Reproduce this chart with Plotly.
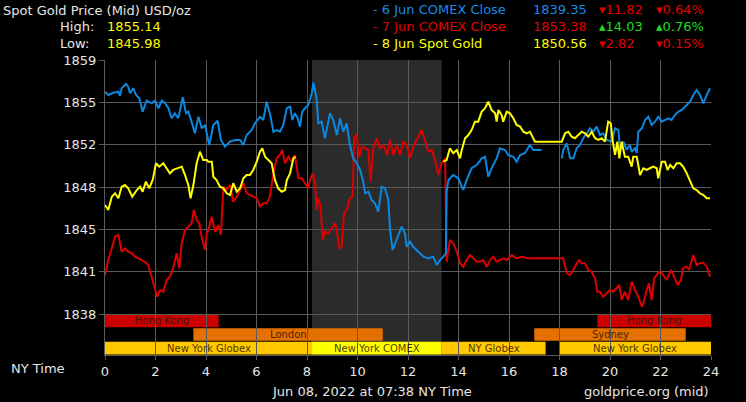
import plotly.graph_objects as go

# ---------------- data ----------------
x_ticks = list(range(0, 25, 2))
y_tickvals = [1838, 1841.5, 1845, 1848.5, 1852, 1855.5, 1859]
y_ticktext = ["1838", "1841", "1845", "1848", "1852", "1855", "1859"]

blue_t = [0, 0.13, 0.33, 0.53, 0.59, 0.66, 0.83, 0.92, 0.99, 1.12, 1.23, 1.36, 1.49, 1.65, 1.85, 1.98,
          2.11, 2.25, 2.38, 2.51, 2.64, 2.77, 2.90, 3.08, 3.21, 3.30, 3.43, 3.56, 3.70, 3.83, 3.96,
          4.13, 4.29, 4.46, 4.59, 4.75, 4.95, 5.15, 5.35, 5.48, 5.61, 5.81, 5.94, 6.14, 6.27, 6.40,
          6.53, 6.67, 6.80, 6.93, 7.06, 7.20, 7.33, 7.42, 7.52, 7.63, 7.72, 7.81, 7.92, 8.05, 8.19,
          8.25, 8.38, 8.45, 8.58, 8.71, 8.91, 9.04, 9.18, 9.31, 9.44, 9.57, 9.70, 9.83, 9.97, 10.10,
          10.23, 10.30, 10.43, 10.56, 10.69, 10.82, 10.96, 11.09, 11.22, 11.29, 11.39, 11.55, 11.75,
          11.88, 11.95, 12.08, 12.21, 12.41, 12.61, 12.80, 13.00, 13.14, 13.27, 13.40, 13.50, 13.53,
          13.60, 13.79, 13.99, 14.19, 14.32, 14.52, 14.72, 14.92, 15.05, 15.18, 15.31, 15.51, 15.64,
          15.84, 15.97, 16.17, 16.30, 16.44, 16.63, 16.83, 16.96, 17.16, 17.29, 17.7,
          18.09, 18.15, 18.29, 18.42, 18.55, 18.68, 18.81, 18.94, 19.08, 19.21, 19.34, 19.47, 19.60,
          19.73, 19.87, 20.07, 20.20, 20.33, 20.40, 20.53, 20.66, 20.79, 20.86, 20.99, 21.06, 21.12,
          21.26, 21.39, 21.52, 21.65, 21.78, 21.91, 22.05, 22.18, 22.31, 22.44, 22.57, 22.71, 22.84,
          22.97, 23.17, 23.30, 23.43, 23.56, 23.70, 23.83, 23.96]
blue_v = [1856.38, 1856.11, 1856.30, 1856.38, 1856.02, 1856.66, 1857.02, 1856.79, 1856.25, 1856.66,
          1856.11, 1855.83, 1854.73, 1855.64, 1855.42, 1855.64, 1855.01, 1855.64, 1855.42, 1855.01,
          1854.18, 1854.59, 1854.18, 1855.92, 1854.59, 1854.73, 1853.90, 1852.94, 1854.31, 1853.35,
          1853.63, 1851.97, 1853.63, 1853.98, 1852.39, 1851.83, 1852.25, 1852.39, 1852.39, 1851.97,
          1852.80, 1853.21, 1853.77, 1854.31, 1854.04, 1855.55, 1854.59, 1853.07, 1853.21, 1853.07,
          1853.63, 1855.01, 1855.14, 1854.04, 1854.59, 1854.18, 1853.49, 1854.73, 1855.01, 1855.28,
          1856.25, 1857.14, 1855.83, 1853.77, 1853.90, 1852.53, 1854.59, 1854.04, 1852.80, 1854.18,
          1853.07, 1853.77, 1851.97, 1850.87, 1850.46, 1849.91, 1848.94, 1847.98, 1848.11, 1847.42,
          1847.15, 1846.46, 1848.52, 1848.39, 1847.42, 1844.94, 1843.29, 1844.12, 1845.22, 1844.67,
          1843.56, 1843.98, 1843.56, 1843.15, 1842.74, 1842.60, 1842.74, 1842.05, 1842.46, 1842.74,
          1843.02, 1848.11, 1849.08, 1849.49, 1849.22, 1848.25, 1849.08, 1850.05, 1850.32, 1850.87,
          1851.00, 1849.35, 1850.05, 1850.87, 1851.70, 1851.56, 1851.15, 1851.00, 1850.59, 1851.15,
          1851.29, 1851.97, 1851.56, 1851.56, 1851.56, None,
          1850.87, 1851.56, 1852.11, 1850.87, 1850.87, 1851.70, 1851.97, 1852.53, 1852.94, 1853.35,
          1853.07, 1853.49, 1852.80, 1852.94, 1852.39, 1852.25, 1853.35, 1853.21, 1851.56, 1852.25,
          1851.56, 1851.97, 1851.42, 1851.70, 1851.29, 1853.07, 1853.35, 1854.04, 1854.31, 1853.63,
          1853.90, 1854.31, 1853.90, 1854.04, 1854.18, 1854.04, 1854.45, 1854.73, 1854.87, 1855.14,
          1855.55, 1856.11, 1856.52, 1856.11, 1855.42, 1856.11, 1856.66]

yellow_t = [0, 0.13, 0.27, 0.40, 0.53, 0.66, 0.79, 0.92, 1.08, 1.26, 1.39, 1.49, 1.62, 1.75, 1.89,
            2.02, 2.15, 2.31, 2.44, 2.57, 2.70, 2.86, 3.04, 3.17, 3.30, 3.39, 3.50, 3.63, 3.76, 3.89,
            4.03, 4.09, 4.23, 4.29, 4.42, 4.55, 4.69, 4.82, 4.95, 5.08, 5.22, 5.35, 5.48, 5.61, 5.74,
            5.87, 6.01, 6.14, 6.23, 6.34, 6.47, 6.60, 6.73, 6.86, 7.00, 7.13, 7.20, 7.33, 7.46, 7.55,
            10.0,
            13.40, 13.53, 13.66, 13.79, 13.93, 14.06, 14.13, 14.26, 14.39, 14.52, 14.65, 14.78, 14.92,
            15.05, 15.18, 15.31, 15.45, 15.51, 15.58, 15.71, 15.77, 15.91, 16.04, 16.17, 16.30, 16.44,
            16.57, 16.70, 16.83, 16.96, 17.03, 18.09, 18.22, 18.35, 18.48, 18.61, 18.74, 18.88, 19.01,
            19.14, 19.27, 19.41, 19.54, 19.67, 19.80, 19.93, 20.03, 20.11, 20.20, 20.29, 20.37, 20.46,
            20.59, 20.72, 20.86, 20.92, 21.06, 21.19, 21.32, 21.45, 21.58, 21.71, 21.85, 21.91, 22.05,
            22.18, 22.28, 22.38, 22.51, 22.64, 22.77, 22.90, 23.04, 23.17, 23.30, 23.43, 23.56, 23.70,
            23.83, 23.96]
yellow_v = [1847.01, 1846.60, 1847.70, 1847.98, 1847.57, 1848.52, 1848.66, 1848.39, 1847.70, 1848.25,
            1848.52, 1848.11, 1848.94, 1848.39, 1849.08, 1850.46, 1850.18, 1850.46, 1850.05, 1849.63,
            1849.91, 1850.05, 1850.18, 1849.49, 1848.66, 1847.57, 1848.66, 1850.46, 1851.42, 1850.73,
            1850.73, 1850.59, 1850.59, 1849.35, 1849.08, 1848.52, 1848.39, 1847.98, 1847.84, 1848.81,
            1848.11, 1848.39, 1849.22, 1849.49, 1849.49, 1849.91, 1850.59, 1851.42, 1851.70, 1851.00,
            1850.73, 1850.46, 1849.08, 1848.39, 1848.11, 1848.25, 1849.08, 1849.63, 1850.87, 1851.00,
            None,
            1850.59, 1850.73, 1851.70, 1851.29, 1851.56, 1850.87, 1851.56, 1852.53, 1852.80, 1853.21,
            1853.90, 1853.90, 1854.73, 1855.01, 1855.55, 1854.87, 1854.59, 1853.90, 1854.87, 1854.45,
            1853.90, 1854.73, 1854.59, 1854.18, 1853.63, 1853.49, 1853.07, 1852.94, 1853.07, 1852.53,
            1852.25, 1852.25, 1852.94, 1853.07, 1852.66, 1852.53, 1852.80, 1853.07, 1852.94, 1852.66,
            1853.07, 1852.53, 1852.39, 1852.53, 1852.25, 1853.90, 1853.77, 1852.25, 1851.15, 1852.25,
            1850.87, 1852.25, 1851.00, 1851.00, 1850.18, 1851.00, 1851.00, 1849.49, 1850.05, 1849.91,
            1850.05, 1850.18, 1850.05, 1849.22, 1850.59, 1850.59, 1849.91, 1850.32, 1850.05, 1850.46,
            1850.46, 1850.18, 1849.63, 1849.08, 1848.39, 1848.25, 1847.98, 1847.84, 1847.57, 1847.57]

red_t = [0, 0.13, 0.27, 0.40, 0.53, 0.66, 0.79, 0.92, 1.06, 1.19, 1.32, 1.45, 1.58, 1.71, 1.85, 1.98,
         2.07, 2.18, 2.31, 2.44, 2.57, 2.68, 2.84, 2.94, 3.04, 3.17, 3.30, 3.43, 3.52, 3.63, 3.73,
         3.83, 3.96, 4.03, 4.09, 4.23, 4.36, 4.49, 4.59, 4.69, 4.82, 4.95, 5.08, 5.22, 5.35, 5.48,
         5.61, 5.74, 5.87, 6.01, 6.14, 6.27, 6.40, 6.53, 6.67, 6.80, 6.93, 7.02, 7.13, 7.26, 7.39,
         7.52, 7.66, 7.79, 7.92, 8.05, 8.12, 8.23, 8.32, 8.38, 8.45, 8.54, 8.62, 8.71, 8.84, 8.98,
         9.11, 9.20, 9.28, 9.37, 9.47, 9.57, 9.70, 9.81, 9.87, 9.97, 10.07, 10.17, 10.30, 10.43,
         10.52, 10.63, 10.76, 10.89, 11.02, 11.18, 11.29, 11.42, 11.55, 11.68, 11.81, 11.95, 12.08,
         12.21, 12.41, 12.54, 12.67, 12.80, 12.94, 13.07, 13.20, 13.33, 13.47, 13.53, 13.66, 13.79,
         13.93, 14.06, 14.19, 14.32, 14.46, 14.59, 14.72, 14.85, 14.98, 15.12, 15.25, 15.38, 15.51,
         15.64, 15.77, 15.91, 16.11, 16.30, 16.50, 16.76, 17.03, 18.15, 18.29, 18.42, 18.55, 18.68,
         18.78, 18.88, 19.01, 19.14, 19.27, 19.41, 19.50, 19.60, 19.73, 19.87, 20.00, 20.13, 20.27,
         20.37, 20.46, 20.59, 20.72, 20.86, 20.99, 21.12, 21.26, 21.32, 21.45, 21.54, 21.65, 21.75,
         21.89, 22.02, 22.15, 22.24, 22.42, 22.55, 22.68, 22.81, 22.90, 23.04, 23.13, 23.30, 23.43,
         23.56, 23.70, 23.83, 23.96]
red_v = [1841.2, 1842.46, 1843.43, 1844.39, 1844.53, 1843.15, 1843.43, 1843.15, 1843.02, 1842.74,
         1842.60, 1842.46, 1842.32, 1842.05, 1840.95, 1839.98, 1839.43, 1839.98, 1839.84, 1840.81,
         1841.08, 1841.64, 1843.02, 1841.78, 1843.85, 1844.94, 1845.22, 1845.50, 1846.60, 1845.77,
         1845.50, 1844.39, 1843.29, 1844.67, 1844.94, 1846.04, 1844.80, 1845.36, 1844.53, 1848.52,
         1848.25, 1848.66, 1847.28, 1847.70, 1848.25, 1848.81, 1847.98, 1847.84, 1847.70, 1847.57,
         1846.87, 1847.15, 1847.15, 1847.70, 1849.63, 1850.87, 1851.15, 1851.56, 1850.46, 1851.00,
         1850.59, 1851.15, 1849.22, 1849.22, 1848.81, 1848.39, 1849.08, 1849.63, 1848.81, 1846.60,
         1847.57, 1846.87, 1844.12, 1844.80, 1844.67, 1845.08, 1845.50, 1844.67, 1843.43, 1843.56,
         1846.33, 1846.60, 1847.57, 1847.70, 1852.66, 1852.80, 1851.00, 1851.83, 1851.70, 1851.56,
         1848.94, 1851.70, 1852.53, 1851.70, 1851.97, 1851.15, 1852.39, 1851.15, 1851.97, 1851.15,
         1852.25, 1851.97, 1850.87, 1851.83, 1852.66, 1853.21, 1852.39, 1851.42, 1851.56, 1850.73,
         1849.49, 1850.46, 1850.87, 1842.32, 1844.12, 1843.85, 1843.15, 1842.19, 1841.91, 1842.46,
         1842.88, 1842.60, 1842.32, 1842.32, 1842.46, 1841.91, 1842.46, 1842.74, 1842.32, 1842.46,
         1842.60, 1842.46, 1842.88, 1842.60, 1842.74, 1842.60, 1842.60, 1842.60, 1841.36, 1841.22,
         1841.64, 1842.19, 1842.46, 1842.19, 1842.19, 1841.64, 1841.50, 1840.95, 1839.84, 1839.84,
         1839.43, 1839.71, 1839.98, 1839.84, 1840.12, 1840.40, 1839.16, 1839.84, 1839.16, 1840.67,
         1839.98, 1839.43, 1838.60, 1838.88, 1839.98, 1840.54, 1839.16, 1840.95, 1841.36, 1841.50,
         1841.08, 1840.81, 1841.64, 1840.95, 1840.40, 1840.81, 1841.78, 1841.91, 1841.64, 1842.88,
         1842.05, 1842.19, 1842.24, 1841.91, 1841.08]

# trading sessions (hours NY time)
sess_name = ["Hong Kong", "London", "New York Globex", "New York COMEX", "NY Globex",
             "Sydney", "New York Globex", "Hong Kong"]
sess_start = [0, 3.5, 0, 8.2, 13.33, 17, 18, 19.5]
sess_end = [4.5, 11, 8.2, 13.33, 17.45, 23, 24, 24]
sess_row = [2, 1, 0, 0, 0, 1, 0, 2]
sess_color = ["#cc0000", "#e47000", "#ffc800", "#ffff00", "#ffc800", "#e47000", "#ffc800", "#cc0000"]
comex_start, comex_end = 8.2, 13.33

# ---------------- layout constants ----------------
W, H = 746, 402
L, R, T, B = 105, 35, 60, 47
row_h = 1.13
y_min = 1838 - 3 * row_h
y_max = 1859
TXT = "#e6e6e6"
GRID = "#5a5a5a"
FONT = "DejaVu Sans"


def px(x):
    return (x - L) / (W - L - R)


def py(y):
    return (H - B - y) / (H - T - B)


fig = go.Figure()
fig.add_trace(go.Scatter(x=red_t, y=red_v, mode="lines", line=dict(color="#dd0000", width=2),
                         connectgaps=False, hoverinfo="skip"))
fig.add_trace(go.Scatter(x=blue_t, y=blue_v, mode="lines", line=dict(color="#0a88e0", width=2),
                         connectgaps=False, hoverinfo="skip"))
fig.add_trace(go.Scatter(x=yellow_t, y=yellow_v, mode="lines", line=dict(color="#ffff00", width=2),
                         connectgaps=False, hoverinfo="skip"))

shapes = [dict(type="rect", xref="x", yref="paper", x0=comex_start, x1=comex_end, y0=0, y1=1,
               fillcolor="#2b2b2b", line=dict(width=0), layer="below")]
annotations = []
for name, s, e, r, c in zip(sess_name, sess_start, sess_end, sess_row, sess_color):
    y0 = y_min + r * row_h + 0.04
    y1 = y_min + (r + 1) * row_h - 0.04
    shapes.append(dict(type="rect", xref="x", yref="y", x0=s, x1=e, y0=y0, y1=y1,
                       fillcolor=c, line=dict(width=0), layer="below"))
    annotations.append(dict(x=(s + e) / 2, y=(y0 + y1) / 2, xref="x", yref="y", text=name,
                            showarrow=False, font=dict(family=FONT, size=10, color="rgba(40,20,0,0.85)")))


def txt(x, y, text, color=TXT, anchor="left", size=13):
    annotations.append(dict(x=px(x), y=py(y), xref="paper", yref="paper", text=text, showarrow=False,
                            xanchor=anchor, yanchor="middle", font=dict(family=FONT, size=size, color=color)))


BLUE, RED, YEL, GRN = "#1a8ae6", "#e00000", "#ffff00", "#22dd22"
txt(1, 10, "Spot Gold Price (Mid) USD/oz")
txt(58, 26, "High:")
txt(105, 26, "1855.14", YEL)
txt(58, 43, "Low:")
txt(105, 43, "1845.98", YEL)

txt(371, 9, "- 6 Jun COMEX Close", BLUE)
txt(531, 9, "1839.35", BLUE)
txt(597, 9, "▾11.82", RED)
txt(654, 9, "▾0.64%", RED)
txt(371, 26, "- 7 Jun COMEX Close", RED)
txt(531, 26, "1853.38", RED)
txt(597, 26, "▴14.03", GRN)
txt(654, 26, "▴0.76%", GRN)
txt(371, 43, "- 8 Jun Spot Gold", YEL)
txt(531, 43, "1850.56", YEL)
txt(597, 43, "▾2.82", RED)
txt(654, 43, "▾0.15%", RED)

txt(9, 368, "NY Time")
txt(372, 391, "Jun 08, 2022 at 07:38 NY Time", anchor="center")
txt(711, 391, "goldprice.org (mid)", anchor="right")

fig.update_layout(
    width=W, height=H, margin=dict(l=L, r=R, t=T, b=B),
    paper_bgcolor="#000000", plot_bgcolor="#000000",
    showlegend=False, shapes=shapes, annotations=annotations,
    font=dict(family=FONT, size=13, color=TXT),
    xaxis=dict(range=[0, 24], tickvals=x_ticks, ticktext=[str(v) for v in x_ticks],
               showgrid=True, gridcolor=GRID, gridwidth=1, zeroline=False,
               showline=True, linecolor=GRID, ticks="outside", ticklen=4, tickcolor=GRID,
               tickfont=dict(family=FONT, size=13, color=TXT)),
    yaxis=dict(range=[y_min, y_max], tickvals=y_tickvals, ticktext=y_ticktext,
               showgrid=True, gridcolor=GRID, gridwidth=1, zeroline=False,
               showline=True, linecolor=GRID, ticks="outside", ticklen=5, tickcolor=GRID,
               tickfont=dict(family=FONT, size=13, color=TXT)),
)

fig.write_html("out.html", config={"displayModeBar": False},
               post_script="document.body.style.margin='0px';document.body.style.overflow='hidden';"
                           "document.body.style.background='#000';")
